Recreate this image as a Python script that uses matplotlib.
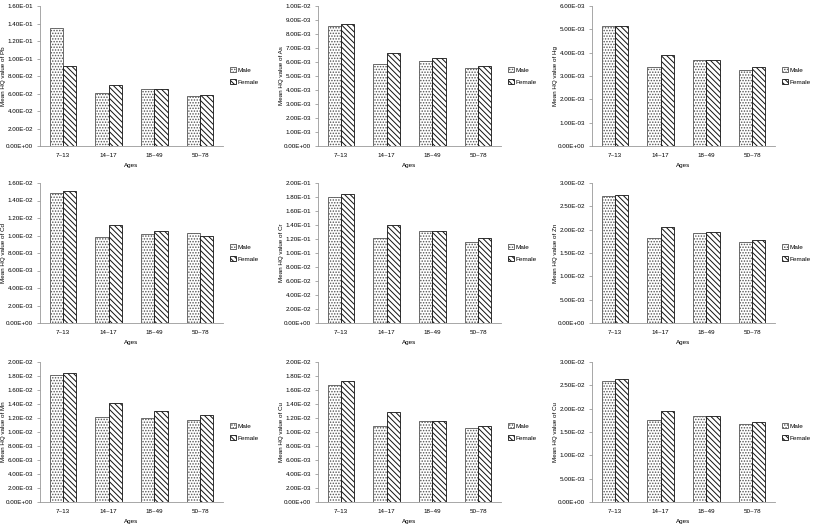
import matplotlib
matplotlib.use("Agg")
import matplotlib.pyplot as plt
from matplotlib.ticker import FuncFormatter, MultipleLocator

plt.rcParams['font.family'] = ['Liberation Sans Narrow', 'Liberation Sans', 'DejaVu Sans']
plt.rcParams['hatch.linewidth'] = 0.7

ages = ["7~13", "14~17", "18~49", "50~78"]
metals = ["Pb", "As", "Hg", "Cd", "Cr", "Zn", "Mn", "Cu", "Cu"]

# mean HQ values
male = [
    [0.1352, 0.0606, 0.0655, 0.0575],
    [0.00855, 0.00586, 0.00610, 0.00555],
    [0.00514, 0.00339, 0.00369, 0.00327],
    [0.01482, 0.00984, 0.01015, 0.01026],
    [0.1795, 0.1217, 0.1317, 0.1160],
    [0.02714, 0.01814, 0.01921, 0.01729],
    [0.01819, 0.01219, 0.01200, 0.01171],
    [0.01676, 0.01090, 0.01162, 0.01052],
    [0.02584, 0.01758, 0.01844, 0.01665],
]
female = [
    [0.0910, 0.0701, 0.0655, 0.0587],
    [0.00869, 0.00667, 0.00626, 0.00574],
    [0.00514, 0.00391, 0.00369, 0.00340],
    [0.01509, 0.01117, 0.01057, 0.00996],
    [0.1847, 0.1394, 0.1308, 0.1208],
    [0.02736, 0.02057, 0.01943, 0.01779],
    [0.01843, 0.01414, 0.01305, 0.01238],
    [0.01733, 0.01286, 0.01157, 0.01086],
    [0.02641, 0.01945, 0.01837, 0.01722],
]
ymax = [0.16, 0.01, 0.006, 0.016, 0.2, 0.03, 0.02, 0.02, 0.03]
ystep = [0.02, 0.001, 0.001, 0.002, 0.02, 0.005, 0.002, 0.002, 0.005]

W, H = 813, 525
fig = plt.figure(figsize=(W / 100, H / 100), dpi=100)

lefts = [40, 318, 592]
tops = [6, 183, 362]
pw, ph = 183, 140

fmt = FuncFormatter(lambda v, p: f"{v:.2E}")
bw = 0.29

for i, metal in enumerate(metals):
    r, c = divmod(i, 3)
    x0, y0 = lefts[c], tops[r]
    ax = fig.add_axes([x0 / W, 1 - (y0 + ph) / H, pw / W, ph / H])
    xs = range(len(ages))
    ax.bar([x - bw / 2 for x in xs], male[i], bw, color='white',
           edgecolor='#555555', hatch='......', linewidth=0.6, label='Male')
    ax.bar([x + bw / 2 for x in xs], female[i], bw, color='white',
           edgecolor='#111111', hatch='\\\\\\\\\\\\', linewidth=0.6, label='Female')
    ax.set_xlim(-0.5, len(ages) - 0.5)
    ax.set_ylim(0, ymax[i])
    ax.yaxis.set_major_locator(MultipleLocator(ystep[i]))
    ax.yaxis.set_major_formatter(fmt)
    ax.set_xticks(list(xs))
    ax.set_xticklabels(ages)
    ax.tick_params(axis='x', length=0, labelsize=4.5, pad=5)
    ax.tick_params(axis='y', length=2, width=0.5, labelsize=4.5, pad=3, color='#888888')
    for s in ['top', 'right']:
        ax.spines[s].set_visible(False)
    for s in ['left', 'bottom']:
        ax.spines[s].set_color('#999999')
        ax.spines[s].set_linewidth(0.6)
    ax.set_ylabel(f"Mean HQ value of {metal}", fontsize=4.5)
    ax.yaxis.set_label_coords(-34 / pw, 0.5)
    ax.set_xlabel("Ages", fontsize=4.5)
    ax.xaxis.set_label_coords(0.5, -17 / ph)
    ax.legend(loc='center left', bbox_to_anchor=(1.02, 0.5), frameon=False,
              fontsize=4.6, handlelength=0.8, handleheight=0.8,
              handletextpad=0.3, labelspacing=0.9, borderaxespad=0.2)

fig.savefig("out.png", dpi=100)
